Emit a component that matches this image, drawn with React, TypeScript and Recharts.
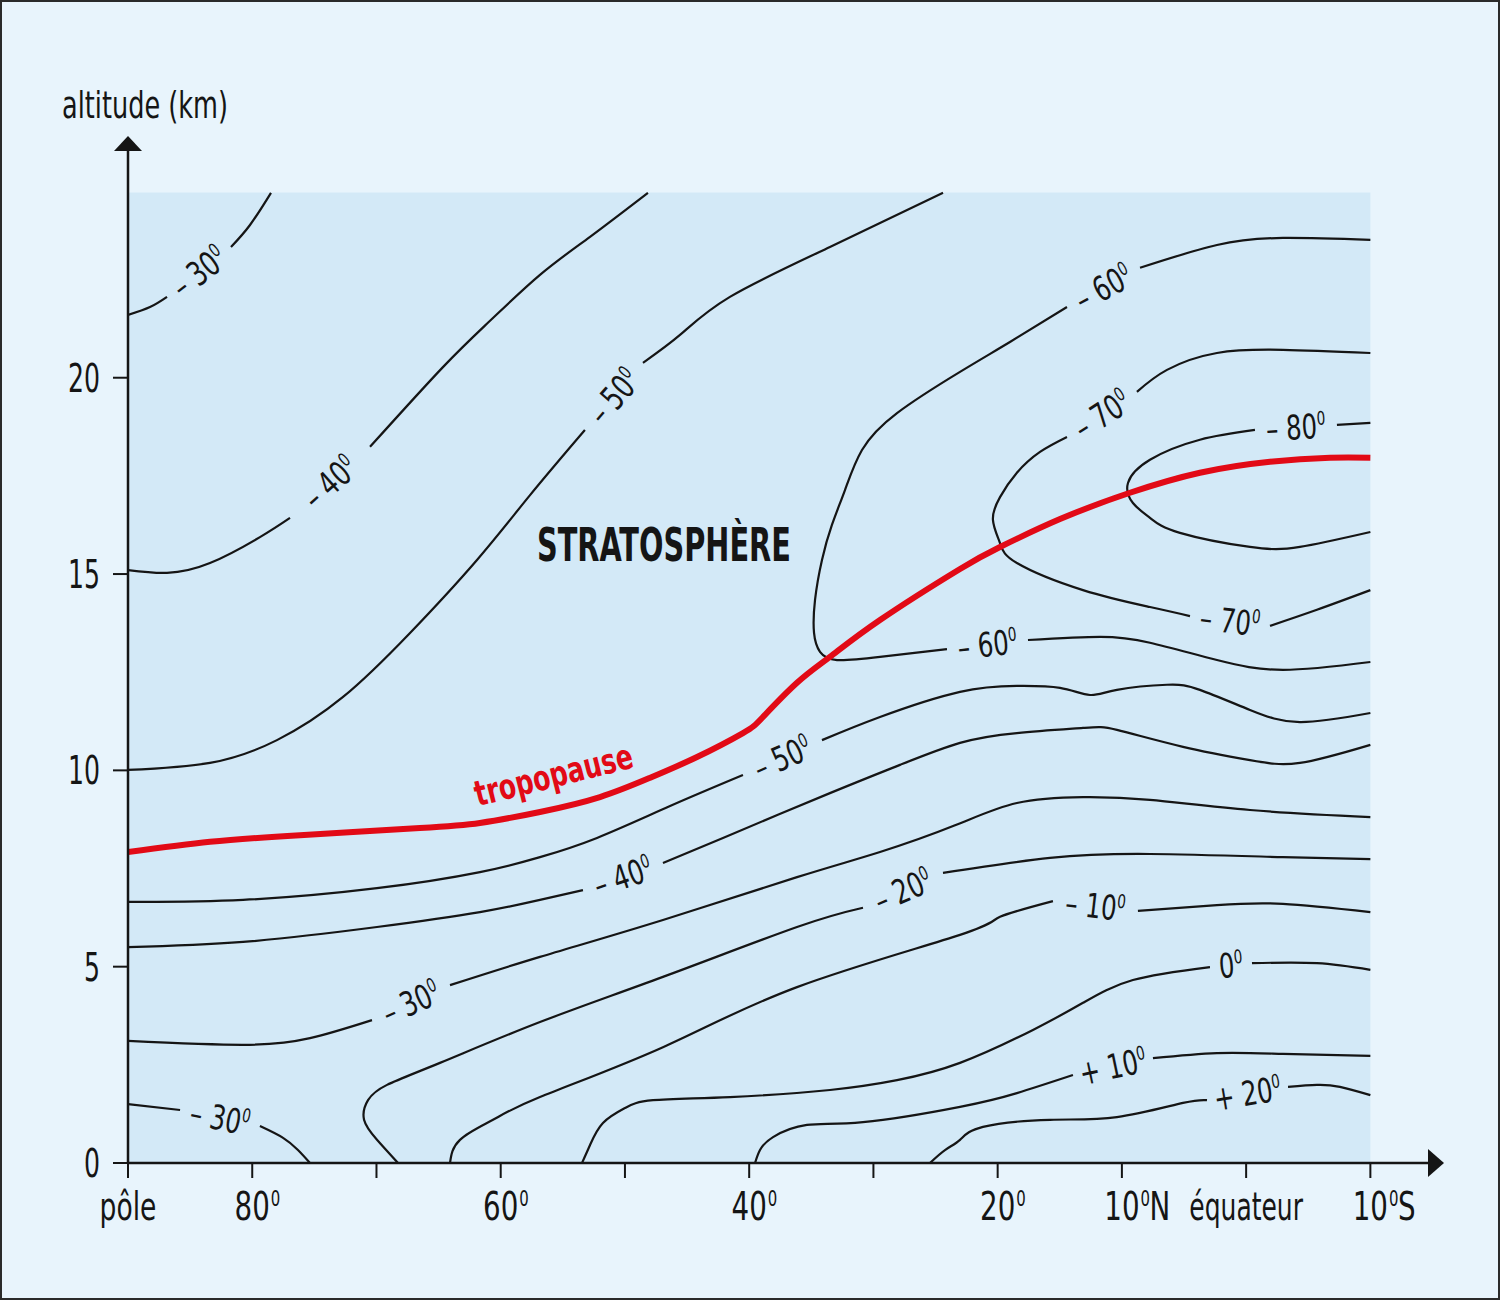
import React from "react";
import { ComposedChart, Line, Scatter, XAxis, YAxis, ReferenceArea, ReferenceDot } from "recharts";

type Seg = [number, number][];

// x = latitude (90 = pôle, negative = south), y = altitude in km
const X_TICKS = [90, 80, 70, 60, 50, 40, 30, 20, 10, 0, -10];
const X_TICK_LABELS = ["pôle", "80⁰", "", "60⁰", "", "40⁰", "", "20⁰", "10⁰N", "équateur", "10⁰S"];
const Y_TICKS = [0, 5, 10, 15, 20];

// isotherms, each split where its label sits
const ISO_M30_TOP: Seg[] = [
  [[90, 21.6], [88.23, 21.8], [86.86, 22.06]],
  [[81.71, 23.33], [80.18, 23.89], [78.49, 24.71]],
];
const ISO_M40_UP: Seg[] = [
  [[90, 15.1], [86.86, 15.03], [83.4, 15.28], [79.38, 15.94], [76.96, 16.43]],
  [[70.52, 18.24], [64.65, 20.27], [60.86, 21.45], [56.84, 22.62], [52.81, 23.59], [48.15, 24.71]],
];
const ISO_M50_UP: Seg[] = [
  [[90, 10.01], [83.4, 10.19], [78.01, 10.77], [72.69, 11.87], [67.3, 13.5], [61.91, 15.36], [57.64, 17.01], [53.22, 18.67]],
  [[48.55, 20.38], [45.57, 21.09], [41.55, 22.06], [33.5, 23.33], [24.4, 24.71]],
];
const ISO_M60: Seg[] = [
  [[-10, 23.51], [-2.96, 23.56], [2.35, 23.38], [8.54, 22.8]],
  [[14.42, 21.8], [19.01, 20.91], [23.03, 20.15], [28.1, 19.1], [30.92, 18.16], [32.29, 17.14], [33.34, 16.25],
   [34.14, 15.36], [34.7, 14.34], [34.78, 13.5], [34.3, 13.02], [32.93, 12.81], [29.47, 12.89], [24.08, 13.09]],
  [[17.56, 13.32], [11.76, 13.4], [7.74, 13.25], [2.35, 12.81], [-2.96, 12.56], [-10, 12.76]],
];
const ISO_M70: Seg[] = [
  [[-10, 20.63], [-2.96, 20.71], [2.35, 20.63], [6.37, 20.2], [8.79, 19.64]],
  [[14.42, 18.49], [16.59, 18.11], [18.45, 17.58], [19.81, 16.96], [20.38, 16.38], [19.81, 15.79], [18.45, 15.28],
   [13.13, 14.59], [7.74, 14.16], [4.52, 13.93]],
  [[-1.92, 13.68], [-5.7, 14.09], [-10, 14.59]],
];
const ISO_M80: Seg[] = [
  [[-10, 18.85], [-7.31, 18.8]],
  [[-0.71, 18.67], [3.72, 18.42], [7.74, 17.91], [9.51, 17.32], [9.11, 16.81], [7.74, 16.43], [5.33, 16.05],
   [-0.31, 15.69], [-4.33, 15.69], [-10, 16.07]],
];
const ISO_M50_LOW: Seg[] = [
  [[90, 6.65], [80.74, 6.7], [69.96, 7.0], [61.67, 7.41], [56.84, 7.79], [52.25, 8.28], [46.37, 9.09], [40.5, 9.88]],
  [[34.14, 10.77], [29.47, 11.36], [23.03, 12.0], [18.45, 12.15], [14.98, 12.1], [12.57, 11.92], [10.4, 12.05],
   [6.37, 12.18], [3.72, 12.05], [-0.31, 11.54], [-4.33, 11.23], [-10, 11.46]],
];
const ISO_M40_LOW: Seg[] = [
  [[90, 5.5], [80.74, 5.63], [69.96, 6.01], [61.67, 6.39], [56.84, 6.7], [53.38, 6.95]],
  [[46.94, 7.64], [42.11, 8.28], [33.5, 9.42], [27.86, 10.14], [23.03, 10.7], [18.45, 10.95],
   [13.13, 11.08], [10.4, 11.03], [5.08, 10.6], [-0.31, 10.26], [-4.33, 10.19], [-10, 10.65]],
];
const ISO_M30_MID: Seg[] = [
  [[90, 3.11], [80.74, 3.01], [75.35, 3.18], [70.36, 3.64]],
  [[64.08, 4.53], [56.84, 5.25], [46.94, 6.19], [36.15, 7.28], [29.47, 7.92], [23.43, 8.6], [18.45, 9.17],
   [13.13, 9.32], [7.74, 9.25], [-0.31, 8.99], [-10, 8.81]],
];
const ISO_M20: Seg[] = [
  [[68.27, 0], [69.96, 0.59], [71.0, 1.1], [70.68, 1.6], [69.15, 1.99], [64.89, 2.55], [56.84, 3.59],
   [46.94, 4.74], [36.15, 6.01], [30.84, 6.5]],
  [[24.4, 7.39], [15.79, 7.77], [7.74, 7.87], [-2.96, 7.79], [-10, 7.74]],
];
const ISO_M10: Seg[] = [
  [[64.08, 0], [63.28, 0.59], [60.62, 1.1], [56.84, 1.68], [46.94, 2.95], [36.15, 4.48], [23.03, 5.81],
   [19.81, 6.27], [15.55, 6.67]],
  [[8.71, 6.42], [2.35, 6.57], [-2.96, 6.6], [-10, 6.39]],
];
const ISO_ZERO: Seg[] = [
  [[53.46, 0], [52.81, 0.46], [51.77, 1.02], [50.0, 1.4], [47.74, 1.6], [41.55, 1.68], [33.5, 1.86], [28.1, 2.11],
   [23.03, 2.55], [17.16, 3.39], [13.13, 4.08], [9.11, 4.66], [2.91, 4.99]],
  [[-0.47, 5.09], [-5.7, 5.09], [-10, 4.92]],
];
const ISO_P10: Seg[] = [
  [[39.53, 0], [39.13, 0.33], [38.08, 0.66], [35.35, 0.97], [30.84, 1.04], [23.03, 1.43], [18.45, 1.78], [13.94, 2.24]],
  [[7.5, 2.67], [2.35, 2.8], [-2.96, 2.78], [-10, 2.73]],
];
const ISO_P20: Seg[] = [
  [[25.45, 0], [24.24, 0.33], [23.03, 0.59], [21.18, 0.92], [15.79, 1.1], [10.4, 1.17], [5.08, 1.53], [3.15, 1.6]],
  [[-3.37, 1.94], [-5.7, 1.99], [-7.55, 1.94], [-10, 1.73]],
];
const ISO_M30_LOW: Seg[] = [
  [[90, 1.5], [85.81, 1.35]],
  [[79.38, 0.94], [77.52, 0.64], [76.32, 0.33], [75.35, 0]],
];

const TROPOPAUSE: Seg = [
  [90, 7.92], [83.4, 8.18], [76.16, 8.35], [66.5, 8.53], [61.67, 8.66], [56.84, 8.94], [52.01, 9.32], [47.98, 9.81],
  [44.2, 10.34], [40.5, 10.95], [38.89, 11.36], [36.15, 12.23], [33.5, 12.89], [29.47, 13.83], [23.03, 15.13],
  [19.81, 15.69], [14.98, 16.4], [9.35, 17.07], [3.72, 17.58], [-1.92, 17.86], [-6.75, 17.96], [-10, 17.96],
];

const CONTOURS = [
  { level: -30, segments: ISO_M30_TOP },
  { level: -40, segments: ISO_M40_UP },
  { level: -50, segments: ISO_M50_UP },
  { level: -60, segments: ISO_M60 },
  { level: -70, segments: ISO_M70 },
  { level: -80, segments: ISO_M80 },
  { level: -50, segments: ISO_M50_LOW },
  { level: -40, segments: ISO_M40_LOW },
  { level: -30, segments: ISO_M30_MID },
  { level: -20, segments: ISO_M20 },
  { level: -10, segments: ISO_M10 },
  { level: 0, segments: ISO_ZERO },
  { level: 10, segments: ISO_P10 },
  { level: 20, segments: ISO_P20 },
  { level: -30, segments: ISO_M30_LOW },
];

// layout
const W = 1500;
const H = 1300;
const PLOT_LEFT = 128;
const PLOT_RIGHT = 1430;
const PLOT_TOP = 150;
const PLOT_BOTTOM = 1163;
const X_MIN = -14.8;
const X_MAX = 90;
const Y_MAX = 25.8;
const KX = (PLOT_RIGHT - PLOT_LEFT) / (X_MAX - X_MIN);
const KY = (PLOT_BOTTOM - PLOT_TOP) / Y_MAX;

const FONT = "'DejaVu Sans Condensed', 'DejaVu Sans', sans-serif";
const INK = "#151515";
const RED = "#e20a16";
const OUTER_BG = "#e8f4fc";
const PLOT_BG = "#d3e9f7";
const TICK_SX = 0.79; // squeeze the tick font to a condensed look

// one label per gap, centred in it and turned along the line
const LABELS = CONTOURS.flatMap((c) =>
  c.segments.slice(1).map((seg, i) => {
    const a = c.segments[i][c.segments[i].length - 1];
    const b = seg[0];
    let dx = (a[0] - b[0]) * KX;
    let dy = (a[1] - b[1]) * KY;
    if (dx < 0) {
      dx = -dx;
      dy = -dy;
    }
    return { x: (a[0] + b[0]) / 2, y: (a[1] + b[1]) / 2, level: c.level, angle: (Math.atan2(dy, dx) * 180) / Math.PI };
  })
);

function IsoLabel(props: any) {
  const { cx, cy, payload } = props;
  const sign = payload.level < 0 ? "– " : payload.level > 0 ? "+ " : "";
  return (
    <g transform={`translate(${cx},${cy}) rotate(${payload.angle}) scale(0.8,1)`}>
      <text x={0} y={12} textAnchor="middle" fontSize={34} fontFamily={FONT} fill={INK}>
        {sign}
        {Math.abs(payload.level)}
        <tspan fontSize={19} dy={-13}>0</tspan>
      </text>
    </g>
  );
}

function XTick(props: any) {
  const { x, payload } = props;
  const label = X_TICK_LABELS[X_TICKS.indexOf(payload.value)] ?? "";
  if (!label) return null;
  const baseY = PLOT_BOTTOM + 57;
  if (!label.includes("⁰")) {
    return (
      <text x={x} y={baseY} textAnchor="middle" fontSize={39} fontFamily={FONT} fill={INK}
        textLength={label.length * 14.2} lengthAdjust="spacingAndGlyphs">
        {label}
      </text>
    );
  }
  const [main, suffix] = label.split("⁰");
  const half = main.length * 8.8;
  return (
    <text transform={`translate(${x},${baseY}) scale(${TICK_SX},1)`} fontSize={39} fontFamily={FONT} fill={INK}>
      <tspan x={0} y={0} textAnchor="middle">{main}</tspan>
      <tspan x={(half + 1) / TICK_SX} y={-14} fontSize={21} textAnchor="start">0</tspan>
      {suffix ? <tspan x={(half + 10) / TICK_SX} y={0} textAnchor="start">{suffix}</tspan> : null}
    </text>
  );
}

function YTick(props: any) {
  const { y, payload } = props;
  const s = String(payload.value);
  return (
    <text x={PLOT_LEFT - 28} y={y + 14} textAnchor="end" fontSize={39} fontFamily={FONT} fill={INK}
      textLength={s.length * 16} lengthAdjust="spacingAndGlyphs">
      {s}
    </text>
  );
}

export default function App() {
  return (
    <div style={{ position: "absolute", left: 0, top: 0, width: W, height: H, background: OUTER_BG }}>
      <ComposedChart
        width={W}
        height={H}
        margin={{ top: PLOT_TOP, right: W - PLOT_RIGHT, bottom: H - PLOT_BOTTOM - 60, left: PLOT_LEFT - 60 }}
      >
        <XAxis
          type="number"
          dataKey="x"
          domain={[X_MIN, X_MAX]}
          reversed
          allowDataOverflow
          ticks={X_TICKS}
          interval={0}
          height={60}
          tickSize={15}
          axisLine={{ stroke: INK, strokeWidth: 2.5 }}
          tickLine={{ stroke: INK, strokeWidth: 2 }}
          tick={(p: any) => <XTick {...p} />}
        />
        <YAxis
          type="number"
          dataKey="y"
          domain={[0, Y_MAX]}
          allowDataOverflow
          ticks={Y_TICKS}
          interval={0}
          width={60}
          tickSize={15}
          axisLine={{ stroke: INK, strokeWidth: 2.5 }}
          tickLine={{ stroke: INK, strokeWidth: 2 }}
          tick={(p: any) => <YTick {...p} />}
        />
        <ReferenceArea x1={90} x2={-10} y1={0} y2={24.72} fill={PLOT_BG} fillOpacity={1} stroke="none" />

        {CONTOURS.flatMap((c, ci) =>
          c.segments.map((seg, si) => (
            <Line
              key={`iso-${ci}-${si}`}
              data={seg.map(([x, y]) => ({ x, y }))}
              dataKey="y"
              type="natural"
              stroke={INK}
              strokeWidth={2.2}
              dot={false}
              activeDot={false}
              isAnimationActive={false}
            />
          ))
        )}

        <Line
          data={TROPOPAUSE.map(([x, y]) => ({ x, y }))}
          dataKey="y"
          type="natural"
          stroke={RED}
          strokeWidth={6}
          dot={false}
          activeDot={false}
          isAnimationActive={false}
        />

        <Scatter data={LABELS} shape={(p: any) => <IsoLabel {...p} />} isAnimationActive={false} />

        <ReferenceDot
          x={46.86}
          y={15.77}
          ifOverflow="visible"
          shape={(p: any) => (
            <text x={p.cx} y={p.cy + 17} textAnchor="middle" fontSize={47} fontWeight="bold" fontFamily={FONT}
              fill={INK} textLength={254} lengthAdjust="spacingAndGlyphs">
              STRATOSPHÈRE
            </text>
          )}
        />
        <ReferenceDot
          x={55.71}
          y={9.83}
          ifOverflow="visible"
          shape={(p: any) => (
            <text x={p.cx} y={p.cy + 10} textAnchor="middle" fontSize={35} fontWeight="bold" fontFamily={FONT}
              fill={RED} textLength={162} lengthAdjust="spacingAndGlyphs"
              transform={`rotate(-14 ${p.cx} ${p.cy})`}>
              tropopause
            </text>
          )}
        />

        {/* axis arrows and the y title */}
        <ReferenceDot
          x={X_MIN}
          y={0}
          ifOverflow="visible"
          shape={(p: any) => (
            <polygon points={`${p.cx - 2},${p.cy - 14} ${p.cx + 14},${p.cy} ${p.cx - 2},${p.cy + 14}`} fill={INK} />
          )}
        />
        <ReferenceDot
          x={X_MAX}
          y={Y_MAX}
          ifOverflow="visible"
          shape={(p: any) => (
            <g>
              <polygon points={`${p.cx - 14},${p.cy + 1} ${p.cx},${p.cy - 14} ${p.cx + 14},${p.cy + 1}`} fill={INK} />
              <text x={p.cx + 17} y={p.cy - 32} textAnchor="middle" fontSize={38} fontFamily={FONT} fill={INK}
                textLength={166} lengthAdjust="spacingAndGlyphs">
                altitude (km)
              </text>
            </g>
          )}
        />
      </ComposedChart>
      <div
        style={{
          position: "absolute",
          left: 0,
          top: 0,
          width: W,
          height: H,
          border: "2px solid #2a2a2a",
          boxSizing: "border-box",
          pointerEvents: "none",
        }}
      />
    </div>
  );
}
